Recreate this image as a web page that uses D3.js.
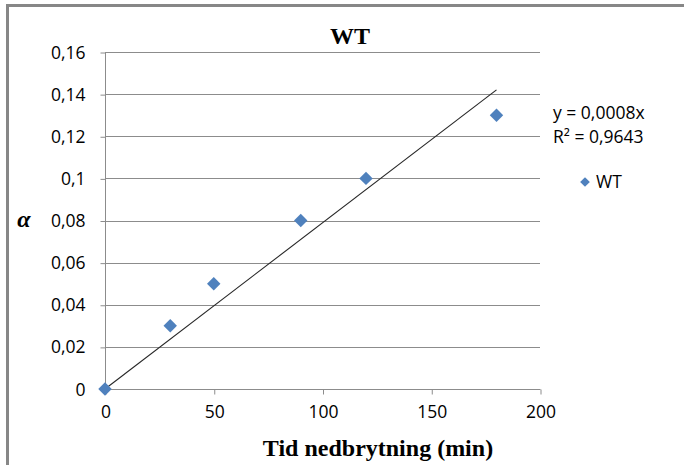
<!DOCTYPE html>
<html>
<head>
<meta charset="utf-8">
<script src="https://cdn.jsdelivr.net/npm/d3@7"></script>
<style>
  html, body { margin: 0; padding: 0; background: #fff; }
  svg { display: block; }
</style>
</head>
<body>
<script>
// Degradation time (min) and measured alpha for WT
const timeMin = [0, 30, 50, 90, 120, 180];
const alphaWT = [0, 0.03, 0.05, 0.08, 0.10, 0.13];
const xTicks = [0, 50, 100, 150, 200];
const yTicks = [0, 0.02, 0.04, 0.06, 0.08, 0.10, 0.12, 0.14, 0.16];
const seriesName = "WT";

const W = 685, H = 465;
const plot = { left: 105, right: 540, top: 52, bottom: 389 };

const svg = d3.select("body").append("svg")
  .attr("width", W).attr("height", H);

// Outer chart frame (left and top edges)
svg.append("path")
  .attr("d", `M7.5,${H} L7.5,5.5 L684,5.5`)
  .attr("fill", "none")
  .attr("stroke", "#878787")
  .attr("stroke-width", 3);

const x = d3.scaleLinear().domain([0, 200]).range([plot.left, plot.right]);
const y = d3.scaleLinear().domain([0, 0.16]).range([plot.bottom, plot.top]);

const fmt = v => String(+v.toFixed(2)).replace(".", ",");
const tickFont = "'Open Sans', 'Liberation Sans', sans-serif";
const tickSize = 17.5;

// Horizontal gridlines
svg.append("g")
  .selectAll("line")
  .data(yTicks.filter(v => v > 0))
  .join("line")
  .attr("x1", plot.left).attr("x2", plot.right)
  .attr("y1", d => Math.round(y(d)) + 0.5).attr("y2", d => Math.round(y(d)) + 0.5)
  .attr("stroke", "#8c8c8c").attr("stroke-width", 1);

// Y axis
const yAxis = svg.append("g")
  .attr("transform", `translate(${plot.left + 0.5},0.5)`)
  .call(d3.axisLeft(y).tickValues(yTicks).tickFormat(fmt).tickSize(5).tickPadding(15));
yAxis.select(".domain").attr("stroke", "#8c8c8c").attr("d", `M0,${plot.bottom}V${plot.top}`);
yAxis.selectAll(".tick line").attr("stroke", "#8c8c8c");
yAxis.selectAll(".tick text")
  .attr("font-family", tickFont).attr("font-size", tickSize).attr("fill", "#000");

// X axis
const xAxis = svg.append("g")
  .attr("transform", `translate(0.5,${plot.bottom + 0.5})`)
  .call(d3.axisBottom(x).tickValues(xTicks).tickFormat(d3.format("d")).tickSize(5).tickPadding(11));
xAxis.select(".domain").attr("stroke", "#8c8c8c").attr("d", `M${plot.left},0H${plot.right}`);
xAxis.selectAll(".tick line").attr("stroke", "#8c8c8c");
xAxis.selectAll(".tick text")
  .attr("font-family", tickFont).attr("font-size", tickSize).attr("fill", "#000");

// Linear trendline through the origin (least squares)
const sxy = d3.sum(timeMin, (t, i) => t * alphaWT[i]);
const sxx = d3.sum(timeMin, t => t * t);
const slope = sxy / sxx;
const meanY = d3.mean(alphaWT);
const ssRes = d3.sum(timeMin, (t, i) => (alphaWT[i] - slope * t) ** 2);
const ssTot = d3.sum(alphaWT, v => (v - meanY) ** 2);
const r2 = 1 - ssRes / ssTot;

const tMax = d3.max(timeMin);
svg.append("line")
  .attr("x1", x(0)).attr("y1", y(0))
  .attr("x2", x(tMax)).attr("y2", y(slope * tMax))
  .attr("stroke", "#262626").attr("stroke-width", 1.1);

// Data markers
const diamond = d3.symbol().type(d3.symbolDiamond2).size(115);
svg.append("g")
  .selectAll("path")
  .data(timeMin.map((t, i) => [t, alphaWT[i]]))
  .join("path")
  .attr("d", diamond)
  .attr("transform", d => `translate(${x(d[0])},${y(d[1])})`)
  .attr("fill", "#4f81bd");

// Title
svg.append("text")
  .attr("x", 350).attr("y", 44)
  .attr("text-anchor", "middle")
  .attr("font-family", "'Liberation Serif', serif")
  .attr("font-weight", "bold").attr("font-size", 24)
  .text(seriesName);

// Axis titles
svg.append("text")
  .attr("x", 378).attr("y", 456)
  .attr("text-anchor", "middle")
  .attr("font-family", "'Liberation Serif', serif")
  .attr("font-weight", "bold").attr("font-size", 24)
  .text("Tid nedbrytning (min)");

svg.append("text")
  .attr("x", 24).attr("y", 227)
  .attr("text-anchor", "middle")
  .attr("font-family", "'Liberation Serif', serif")
  .attr("font-weight", "bold").attr("font-style", "italic").attr("font-size", 24)
  .text("α");

// Trendline equation
const dec = v => v.toFixed(4).replace(".", ",");
const eq = svg.append("g").attr("font-family", tickFont).attr("font-size", tickSize).attr("fill", "#000");
eq.append("text").attr("x", 553).attr("y", 119).text(`y = ${dec(slope)}x`);
eq.append("text").attr("x", 553).attr("y", 143).text(`R² = ${dec(r2)}`);

// Legend
svg.append("path")
  .attr("d", d3.symbol().type(d3.symbolDiamond2).size(60))
  .attr("transform", "translate(585,182)")
  .attr("fill", "#4f81bd");
svg.append("text")
  .attr("x", 596).attr("y", 188)
  .attr("font-family", tickFont).attr("font-size", tickSize)
  .text(seriesName);
</script>
</body>
</html>
